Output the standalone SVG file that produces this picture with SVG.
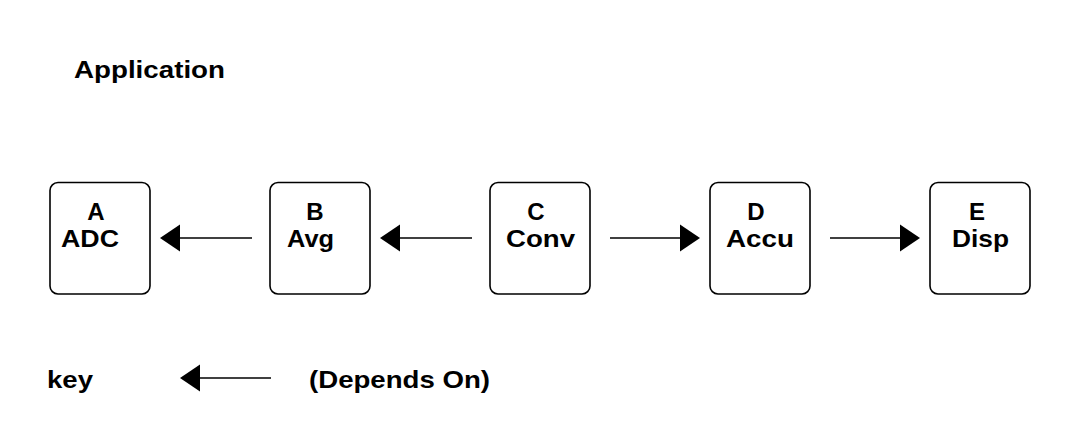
<svg xmlns="http://www.w3.org/2000/svg" width="1080" height="448" viewBox="0 0 1080 448">
<style>
.t{font-family:"Liberation Sans",Arial,sans-serif;font-weight:bold;font-size:24px;fill:#000}
.box{fill:#fff;stroke:#000;stroke-width:1.6}
.ln{stroke:#000;stroke-width:1.6;fill:none}
.hd{fill:#000}
</style>
<rect width="1080" height="448" fill="#fff"/>
<text class="t" x="74" y="78" textLength="151" lengthAdjust="spacingAndGlyphs">Application</text>
<g id="nodeA"><rect class="box" x="50" y="182.5" width="100" height="111.5" rx="8"/>
<text class="t" x="96" y="220" text-anchor="middle">A</text>
<text class="t" x="61" y="247" textLength="58" lengthAdjust="spacingAndGlyphs">ADC</text></g>
<g id="nodeB"><rect class="box" x="270" y="182.5" width="100" height="111.5" rx="8"/>
<text class="t" x="315" y="220" text-anchor="middle">B</text>
<text class="t" x="287" y="247" textLength="47" lengthAdjust="spacingAndGlyphs">Avg</text></g>
<g id="nodeC"><rect class="box" x="490" y="182.5" width="100" height="111.5" rx="8"/>
<text class="t" x="536" y="220" text-anchor="middle">C</text>
<text class="t" x="506" y="247" textLength="69" lengthAdjust="spacingAndGlyphs">Conv</text></g>
<g id="nodeD"><rect class="box" x="710" y="182.5" width="100" height="111.5" rx="8"/>
<text class="t" x="756" y="220" text-anchor="middle">D</text>
<text class="t" x="726" y="247" textLength="68" lengthAdjust="spacingAndGlyphs">Accu</text></g>
<g id="nodeE"><rect class="box" x="930" y="182.5" width="100" height="111.5" rx="8"/>
<text class="t" x="977" y="220" text-anchor="middle">E</text>
<text class="t" x="952" y="247" textLength="57" lengthAdjust="spacingAndGlyphs">Disp</text></g>
<g id="connectors">
<line class="ln" x1="252" y1="238" x2="178" y2="238"/><polygon class="hd" points="160,238 180,224.5 180,251.5"/>
<line class="ln" x1="472" y1="238" x2="398" y2="238"/><polygon class="hd" points="380,238 400,224.5 400,251.5"/>
<line class="ln" x1="610" y1="238" x2="682" y2="238"/><polygon class="hd" points="700,238 680,224.5 680,251.5"/>
<line class="ln" x1="830" y1="238" x2="902" y2="238"/><polygon class="hd" points="920,238 900,224.5 900,251.5"/>
</g>
<g id="key">
<text class="t" x="47" y="388" textLength="46" lengthAdjust="spacingAndGlyphs">key</text>
<line class="ln" x1="271" y1="378" x2="198" y2="378"/><polygon class="hd" points="180,378 200,364.5 200,391.5"/>
<text class="t" x="309" y="388" textLength="181" lengthAdjust="spacingAndGlyphs">(Depends On)</text>
</g>
</svg>
